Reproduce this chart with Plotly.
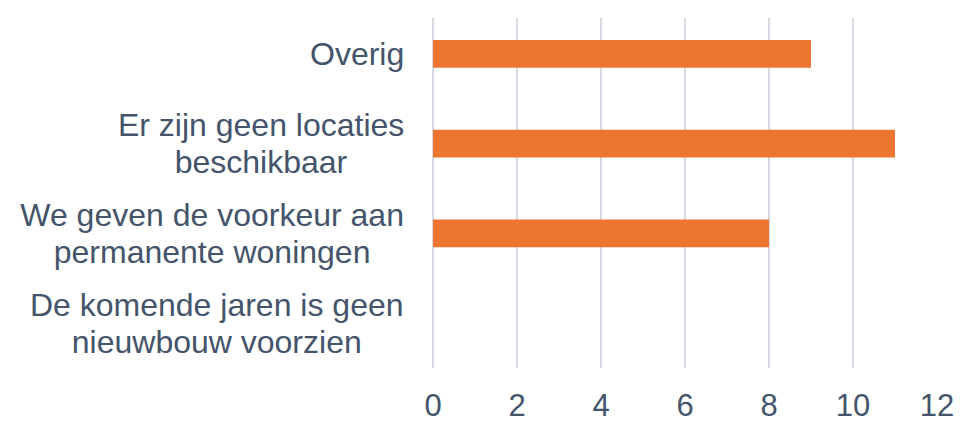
import plotly.graph_objects as go

categories = [
    "De komende jaren is geen<br>nieuwbouw voorzien",
    "We geven de voorkeur aan<br>permanente woningen",
    "Er zijn geen locaties<br>beschikbaar",
    "Overig",
]
values = [0, 8, 11, 9]
x_ticks = [0, 2, 4, 6, 8, 10, 12]

TEXT = "#44546A"
ORANGE = "#ED7532"
GRID = "#D5DAE2"
FONT = "Liberation Sans, Arial, sans-serif"
LABEL_SIZE = 32
LINE_GAP = 37

# Arial advance widths (per 1000 em) for estimating label line widths
ARIAL = {" ": 278, "a": 556, "b": 556, "c": 500, "d": 556, "e": 556, "g": 556,
         "h": 556, "i": 222, "j": 222, "k": 500, "l": 222, "m": 833, "n": 556,
         "o": 556, "p": 556, "r": 333, "s": 500, "t": 278, "u": 556, "v": 500,
         "w": 722, "y": 500, "z": 500, "D": 722, "E": 667, "O": 778, "W": 944}


def text_width(s, size):
    return sum(ARIAL.get(ch, 556) for ch in s) * size / 1000.0


fig = go.Figure()
fig.add_trace(go.Bar(
    x=values,
    y=list(range(len(categories))),
    orientation="h",
    marker=dict(color=ORANGE, line=dict(width=0)),
    width=0.31,
    hoverinfo="skip",
))

for i, c in enumerate(categories):
    lines = c.split("<br>")
    box_w = max(text_width(l, LABEL_SIZE) for l in lines) + 4
    n = len(lines)
    for k, line in enumerate(lines):
        fig.add_annotation(
            x=0, xref="paper", y=i, yref="y",
            text=line, showarrow=False,
            xanchor="right", yanchor="middle", align="center",
            width=box_w,
            xshift=-25,
            yshift=((n - 1) / 2 - k) * LINE_GAP,
            font=dict(family=FONT, size=LABEL_SIZE, color=TEXT),
        )

fig.update_layout(
    width=974, height=421,
    margin=dict(l=433, r=37, t=17.5, b=53),
    paper_bgcolor="white", plot_bgcolor="white",
    showlegend=False,
    font=dict(family=FONT, size=32, color=TEXT),
)
fig.update_xaxes(
    range=[0, 12], tickvals=x_ticks, ticktext=[str(v) for v in x_ticks],
    showgrid=True, gridcolor=GRID, gridwidth=1.5,
    zeroline=True, zerolinecolor=GRID, zerolinewidth=1.5,
    showline=False, ticks="",
    tickfont=dict(family=FONT, size=31, color=TEXT),
    ticklabelstandoff=16,
    automargin=False,
)
fig.update_yaxes(
    range=[-0.5, 3.4], showticklabels=False, showgrid=False,
    zeroline=False, showline=False, ticks="",
)

fig.write_html(
    "out.html",
    config={"displayModeBar": False},
    post_script="document.body.style.margin='0';",
)
